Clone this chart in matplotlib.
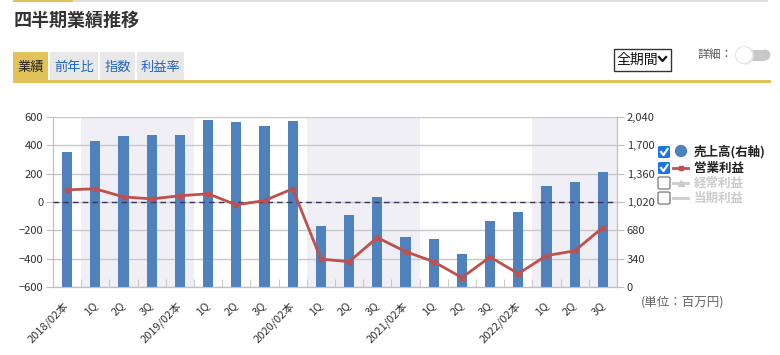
import matplotlib
matplotlib.use("Agg")
import matplotlib.pyplot as plt
from matplotlib.patches import Rectangle, FancyBboxPatch, Ellipse
from matplotlib.lines import Line2D
import numpy as np

plt.rcParams['font.family'] = ['Noto Sans CJK JP', 'DejaVu Sans']

# data
labels = ['2018/02本', '1Q', '2Q', '3Q', '2019/02本', '1Q', '2Q', '3Q',
          '2020/02本', '1Q', '2Q', '3Q', '2021/02本', '1Q', '2Q', '3Q',
          '2022/02本', '1Q', '2Q', '3Q']
sales = [1624, 1754, 1816, 1828, 1828, 2008, 1984, 1935, 1996, 733,
         865, 1082, 601, 577, 397, 793, 901, 1214, 1262, 1382]
op_profit = [86, 93, 36, 22, 44, 58, -20, 10, 93, -403,
             -421, -251, -350, -421, -534, -388, -506, -378, -345, -180]
left_ticks = [-600, -400, -200, 0, 200, 400, 600]
right_ticks = [0, 340, 680, 1020, 1360, 1700, 2040]
shaded = [(0.5, 4.5), (8.5, 12.5), (16.5, 19.5)]

W, H = 780, 355
fig = plt.figure(figsize=(W / 100, H / 100), dpi=100)


def fx(x):
    return x / W


def fy(y):
    return 1 - y / H


def rect(x0, y0, x1, y1, **kw):
    fig.patches.append(Rectangle((fx(x0), fy(y1)), fx(x1) - fx(x0), fy(y0) - fy(y1),
                                 transform=fig.transFigure, **kw))


def circ(xc, yc, r, **kw):
    fig.patches.append(Ellipse((fx(xc), fy(yc)), 2 * r / W, 2 * r / H,
                               transform=fig.transFigure, **kw))


# header
rect(13, 0, 73, 2, color='#e2c35a', lw=0)
rect(73, 0, 768, 1.5, color='#e0e0e0', lw=0)
fig.text(fx(14), fy(20), '四半期業績推移', fontsize=13, fontweight='bold',
         color='#333333', va='center', ha='left')

tabs = [('業績', 13, 48), ('前年比', 50, 98), ('指数', 100, 135), ('利益率', 137, 184)]
for i, (t, x0, x1) in enumerate(tabs):
    rect(x0, 52, x1, 81, color='#e2c35a' if i == 0 else '#e8e8e8', lw=0)
    fig.text(fx((x0 + x1) / 2), fy(67), t, fontsize=9.5, ha='center', va='center',
             color='#222222' if i == 0 else '#2266cc')
rect(13, 80, 771, 83, color='#e2c35a', lw=0)

# select box
rect(613.5, 48.5, 670.5, 70.5, facecolor='white', edgecolor='#333333', lw=1)
fig.text(fx(617), fy(60), '全期間', fontsize=10, ha='left', va='center', color='#111111')
fig.lines.append(Line2D([fx(659), fx(662.5), fx(666)], [fy(57), fy(61), fy(57)],
                        transform=fig.transFigure, color='#111111', lw=1.6))

# toggle
fig.text(fx(697), fy(55), '詳細：', fontsize=8.5, ha='left', va='center', color='#555555')
rect(748, 49.5, 765, 60.5, color='#c8c8c8', lw=0)
circ(765, 55, 5.5, color='#c8c8c8', lw=0)
circ(745, 55.5, 9, facecolor='#e6e6e6', lw=0)
circ(744, 55, 8.5, facecolor='white', edgecolor='#e0e0e0', lw=0.6)

# axes
ax = fig.add_axes([fx(53), fy(287), fx(617) - fx(53), fy(117) - fy(287)])
ax2 = ax.twinx()

x = np.arange(len(labels))
for a, b in shaded:
    ax2.axvspan(a, b, color='#f0eff5', lw=0, zorder=0)
ax2.bar(x, sales, width=0.36, color='#4f81bd', zorder=2)
ax2.set_ylim(0, 2040)
ax2.set_yticks(right_ticks)
ax2.set_yticklabels([f'{v:,}' for v in right_ticks])
ax2.grid(axis='y', color='#c8c8c8', lw=1, zorder=1)
ax2.set_axisbelow(True)

ax.set_zorder(ax2.get_zorder() + 1)
ax.patch.set_visible(False)
ax.axhline(0, color='#3d3461', lw=1, ls=(0, (4, 3)), zorder=3)
ax.plot(x, op_profit, color='#c0504d', lw=2, marker='s', ms=3.5, zorder=4)
ax.set_ylim(-600, 600)
ax.set_yticks(left_ticks)
ax.set_xlim(-0.5, len(labels) - 0.5)
ax.set_xticks(x)
ax.set_xticklabels(labels, rotation=45, ha='right', va='center', rotation_mode='anchor')
ax.set_xticks(np.arange(-0.5, len(labels), 1), minor=True)
ax.tick_params(axis='x', which='major', length=0, pad=12, labelsize=8, labelcolor='#333333')
ax.tick_params(axis='x', which='minor', direction='in', length=6, color='#c0c0c0')
ax.tick_params(axis='y', length=5, color='#c0c0c0', labelsize=8, labelcolor='#333333', pad=2)
ax2.tick_params(axis='y', length=5, color='#c0c0c0', labelsize=8, labelcolor='#333333', pad=2)

for a in (ax, ax2):
    a.spines['top'].set_visible(False)
    for s in ('left', 'right', 'bottom'):
        a.spines[s].set_color('#c0c0c0')

# legend
items = [('売上高(右軸)', True, 152, 'bar'), ('営業利益', True, 168, 'op'),
         ('経常利益', False, 183, 'tri'), ('当期利益', False, 198, 'plain')]
for name, checked, yc, kind in items:
    if checked:
        fig.patches.append(FancyBboxPatch((fx(658), fy(yc + 6)), fx(670) - fx(658), fy(yc - 6) - fy(yc + 6),
                                          boxstyle='round,pad=0,rounding_size=0.003',
                                          transform=fig.transFigure, facecolor='#1a73e8', lw=0))
        fig.lines.append(Line2D([fx(661), fx(663.5), fx(667.5)], [fy(yc), fy(yc + 3), fy(yc - 3)],
                                transform=fig.transFigure, color='white', lw=1.6))
    else:
        fig.patches.append(FancyBboxPatch((fx(658), fy(yc + 6)), fx(670) - fx(658), fy(yc - 6) - fy(yc + 6),
                                          boxstyle='round,pad=0,rounding_size=0.003',
                                          transform=fig.transFigure, facecolor='white',
                                          edgecolor='#777777', lw=0.9))
    if kind == 'bar':
        circ(681, yc - 1, 5.5, color='#4f81bd')
        col = '#222222'
    elif kind == 'op':
        fig.lines.append(Line2D([fx(673), fx(688)], [fy(yc), fy(yc)], transform=fig.transFigure,
                                color='#c0504d', lw=2))
        fig.lines.append(Line2D([fx(680.5)], [fy(yc)], transform=fig.transFigure,
                                color='#c0504d', marker='s', ms=3.5))
        col = '#222222'
    else:
        fig.lines.append(Line2D([fx(673), fx(688)], [fy(yc), fy(yc)], transform=fig.transFigure,
                                color='#cccccc', lw=2))
        if kind == 'tri':
            fig.lines.append(Line2D([fx(680.5)], [fy(yc)], transform=fig.transFigure,
                                    color='#cccccc', marker='^', ms=4))
        col = '#cccccc'
    fig.text(fx(694), fy(yc), name, fontsize=9, fontweight='bold', color=col,
             ha='left', va='center')

fig.text(fx(641), fy(302), '(単位：百万円)', fontsize=9, color='#666666', ha='left', va='center')

plt.savefig('out.png', dpi=100)
